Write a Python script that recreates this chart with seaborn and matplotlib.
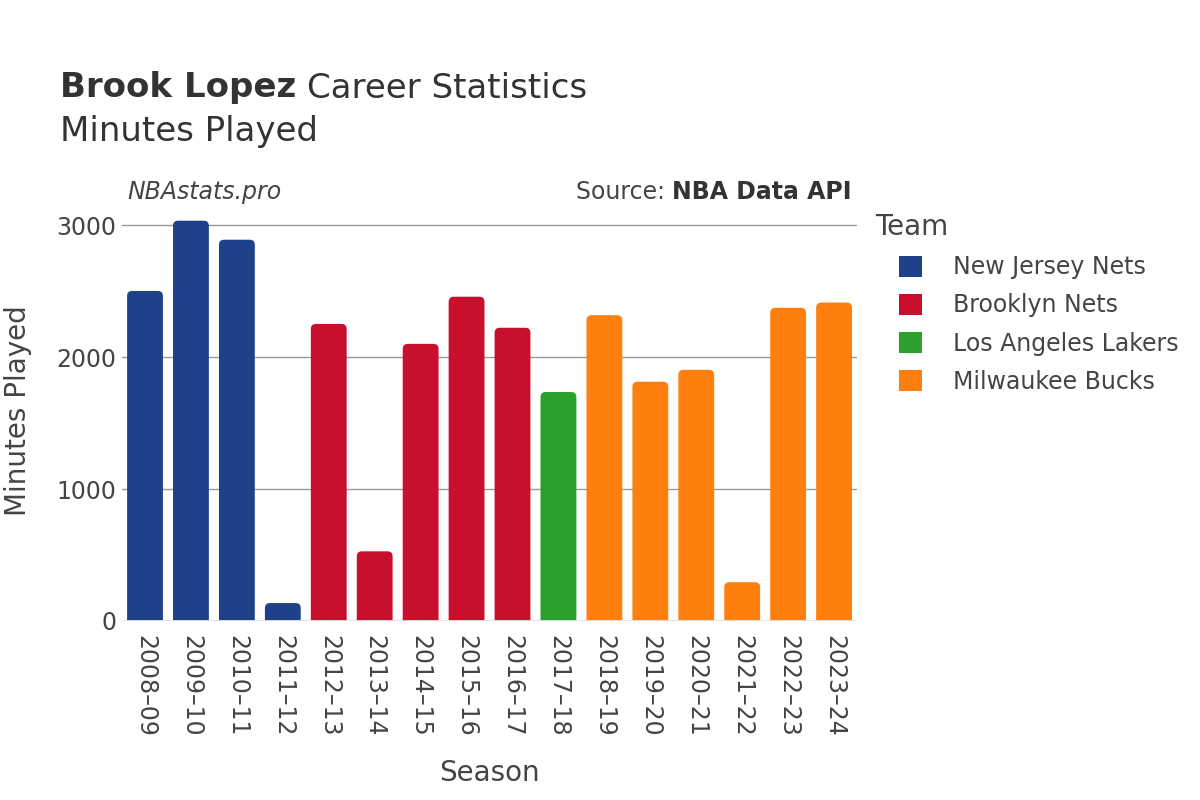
import matplotlib
matplotlib.use("Agg")
import matplotlib.pyplot as plt
from matplotlib.patches import FancyBboxPatch, Patch
import seaborn as sns
import pandas as pd

seasons = ["2008–09", "2009–10", "2010–11", "2011–12", "2012–13", "2013–14",
           "2014–15", "2015–16", "2016–17", "2017–18", "2018–19", "2019–20",
           "2020–21", "2021–22", "2022–23", "2023–24"]
minutes = [2501, 3033, 2889, 136, 2251, 528, 2100, 2457, 2222, 1735,
           2317, 1813, 1903, 294, 2373, 2413]
teams = ["New Jersey Nets"] * 4 + ["Brooklyn Nets"] * 5 + ["Los Angeles Lakers"] + ["Milwaukee Bucks"] * 6
team_order = ["New Jersey Nets", "Brooklyn Nets", "Los Angeles Lakers", "Milwaukee Bucks"]
team_colors = ["#1d428a", "#c8102e", "#2ca02c", "#ff7f0e"]

df = pd.DataFrame({"Season": seasons, "Minutes": minutes, "Team": teams})

sns.set_style("white")
plt.rcParams["font.family"] = ["DejaVu Sans"]
text_col = "#444444"

fig = plt.figure(figsize=(12, 8), dpi=100)
ax = fig.add_axes([0.1017, 0.22375, 0.6125, 0.52625])

sns.barplot(data=df, x="Season", y="Minutes", hue="Team", hue_order=team_order,
            palette=team_colors, dodge=False, width=0.78, saturation=1,
            ax=ax, legend=False)

ax.set_ylim(0, 3190)
ax.set_xlim(-0.5, len(seasons) - 0.5)

# rounded bar tops
px_per_x = 0.6125 * 1200 / len(seasons)
px_per_y = 0.52625 * 800 / 3190
aspect = px_per_x / px_per_y
for p in list(ax.patches):
    h = p.get_height()
    if h <= 0:
        continue
    x0, w = p.get_x(), p.get_width()
    rs = 0.11
    pad_below = rs * aspect
    fb = FancyBboxPatch((x0, -pad_below), w, h + pad_below,
                        boxstyle=f"round,pad=0,rounding_size={rs}",
                        mutation_aspect=aspect,
                        facecolor=p.get_facecolor(), edgecolor="none", zorder=3)
    p.remove()
    ax.add_patch(fb)

ax.set_yticks([0, 1000, 2000, 3000])
ax.yaxis.grid(True, color="#999999", linewidth=1)
ax.set_axisbelow(True)
for s in ax.spines.values():
    s.set_visible(False)
ax.axhline(0, color="#e5e5e5", linewidth=2, zorder=4)
ax.tick_params(axis="y", length=0, labelsize=17, labelcolor=text_col, pad=4)
ax.tick_params(axis="x", length=0, labelsize=17, labelcolor=text_col, pad=10)
plt.setp(ax.get_xticklabels(), rotation=-90, ha="center", va="top")

ax.set_xlabel("Season", fontsize=20, color=text_col, labelpad=16)
ax.set_ylabel("Minutes Played", fontsize=20, color=text_col)
ax.yaxis.set_label_coords(-0.122, 0.5)

t1 = fig.text(0.05, 0.89, "Brook Lopez", fontsize=24.5, fontweight="bold", color="#333333", va="center")
fig.canvas.draw()
b1 = t1.get_window_extent()
fig.text(b1.x1 / fig.bbox.width + 0.009, 0.89, "Career Statistics", fontsize=24.5,
         color="#333333", va="center")
fig.text(0.05, 0.835, "Minutes Played", fontsize=24.5, color="#333333", va="center")
fig.text(0.106, 0.76, "NBAstats.pro", fontsize=17, style="italic", color=text_col, va="center")
src_lbl = fig.text(0.71, 0.76, "Source: ", fontsize=17, color=text_col, va="center", ha="right")
src = fig.text(0.71, 0.76, "NBA Data API", fontsize=17, fontweight="bold", color="#333333",
               va="center", ha="right")
fig.canvas.draw()
bb = src.get_window_extent()
src_lbl.set_x(bb.x0 / fig.bbox.width)

fig.text(0.729, 0.716, "Team", fontsize=20, color=text_col, va="center")
handles = [Patch(facecolor=c, edgecolor="none") for c in team_colors]
leg = fig.legend(handles, team_order, loc="upper left",
                 bbox_to_anchor=(0.749, 0.681), frameon=False, fontsize=17,
                 handlelength=1.0, handleheight=1.0,
                 handletextpad=1.3, labelspacing=0.6, borderpad=0, borderaxespad=0)
for t in leg.get_texts():
    t.set_color(text_col)

fig.savefig("out.png", dpi=100, facecolor="white")
